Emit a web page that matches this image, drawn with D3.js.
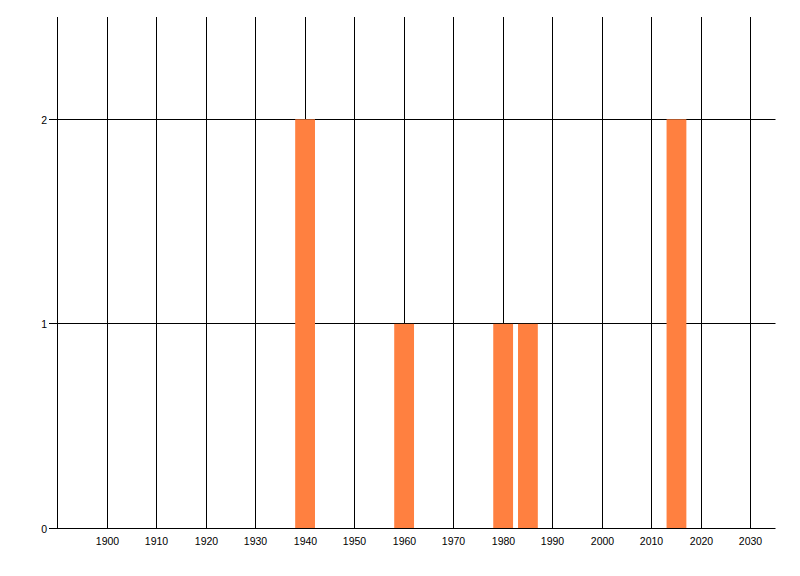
<!DOCTYPE html>
<html><head><meta charset="utf-8">
<script src="https://cdn.jsdelivr.net/npm/d3@7"></script>
<style>body{margin:0;background:#fff}svg{display:block}</style>
</head><body>
<svg id="c" width="800" height="576"></svg>
<script>
const years = [1940, 1960, 1980, 1985, 2015];
const counts = [2, 1, 1, 1, 2];
const binWidth = 4;
const xTicks = [1900,1910,1920,1930,1940,1950,1960,1970,1980,1990,2000,2010,2020,2030];
const yTicks = [0, 1, 2];

const svg = d3.select("#c");
const x = d3.scaleLinear().domain([1890, 2035]).range([57.5, 775.5]);
const y = d3.scaleLinear().domain([0, 2.5]).range([528.5, 17]);
const px = v => Math.floor(v) + 0.5;
const font = "'Liberation Sans', Arial, sans-serif";

// vertical grid
svg.append("g").selectAll("line").data(xTicks).join("line")
  .attr("x1", d => px(x(d))).attr("x2", d => px(x(d)))
  .attr("y1", y(2.5)).attr("y2", px(y(0)))
  .attr("stroke", "#000").attr("stroke-width", 1);

// horizontal grid + y tick marks
svg.append("g").selectAll("line").data(yTicks).join("line")
  .attr("x1", 49).attr("x2", x(2035))
  .attr("y1", d => px(y(d))).attr("y2", d => px(y(d)))
  .attr("stroke", "#000").attr("stroke-width", 1);

// y axis line
svg.append("line").attr("x1", px(x(1890))).attr("x2", px(x(1890)))
  .attr("y1", y(2.5)).attr("y2", px(y(0))).attr("stroke", "#000");

// bars
svg.append("g").selectAll("rect").data(years.map((d,i)=>({year:d,count:counts[i]}))).join("rect")
  .attr("x", d => x(d.year - binWidth/2))
  .attr("width", d => x(d.year + binWidth/2) - x(d.year - binWidth/2))
  .attr("y", d => y(d.count))
  .attr("height", d => y(0) - 0.5 - y(d.count))
  .attr("fill", "#ff8040");

// x labels
svg.append("g").selectAll("text").data(xTicks).join("text")
  .attr("x", d => px(x(d))).attr("y", 545)
  .attr("text-anchor", "middle").attr("font-family", font).attr("font-size", "10.5px")
  .attr("fill", "#000").text(d => d);

// y labels
svg.append("g").selectAll("text").data(yTicks).join("text")
  .attr("x", 47).attr("y", d => px(y(d)) + 4)
  .attr("text-anchor", "end").attr("font-family", font).attr("font-size", "10.5px")
  .attr("fill", "#000").text(d => d);
</script>
</body></html>
